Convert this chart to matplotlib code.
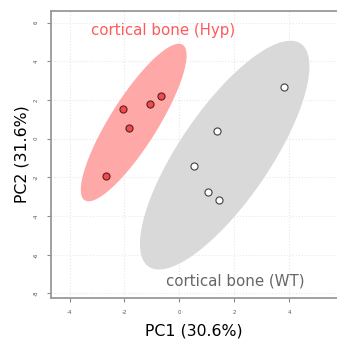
import numpy as np
import matplotlib
matplotlib.use("Agg")
import matplotlib.pyplot as plt

# PCA scores
hyp_pc1 = [-2.05, -1.85, -1.08, -0.68, -2.66]
hyp_pc2 = [1.53, 0.55, 1.81, 2.22, -1.93]
wt_pc1 = [3.82, 1.38, 0.55, 1.06, 1.46]
wt_pc2 = [2.67, 0.41, -1.39, -2.77, -3.17]

x_ticks = [-4, -2, 0, 2, 4]
y_ticks = [-8, -6, -4, -2, 0, 2, 4, 6]


def conf_ellipse(x, y, chi2=5.991, n=200):
    pts = np.column_stack([x, y])
    mu = pts.mean(axis=0)
    cov = np.cov(pts, rowvar=False)
    vals, vecs = np.linalg.eigh(cov)
    t = np.linspace(0, 2 * np.pi, n)
    circ = np.vstack([np.cos(t), np.sin(t)])
    e = vecs @ (np.sqrt(chi2 * vals)[:, None] * circ)
    return mu[0] + e[0], mu[1] + e[1]


fig = plt.figure(figsize=(3.37, 3.42), dpi=100)
ax = fig.add_axes([51 / 337, 1 - 297.7 / 342, (337 - 51) / 337, (297.7 - 11) / 342])

ex, ey = conf_ellipse(hyp_pc1, hyp_pc2)
ax.fill(ex, ey, color='#ffa8a8', lw=0, zorder=1)
ex, ey = conf_ellipse(wt_pc1, wt_pc2)
ax.fill(ex, ey, color='#d9d9d9', lw=0, zorder=1)

ax.scatter(hyp_pc1, hyp_pc2, s=26, c='#f04a4a', edgecolors='#5a2020', linewidths=0.8, zorder=3)
ax.scatter(wt_pc1, wt_pc2, s=26, c='white', edgecolors='#404040', linewidths=0.8, zorder=3)

ax.text(-0.6, 5.57, 'cortical bone (Hyp)', color='#ff5a5a', fontsize=10.8,
        ha='center', va='center', family='DejaVu Sans')
ax.text(2.03, -7.36, 'cortical bone (WT)', color='#666666', fontsize=10.8,
        ha='center', va='center', family='DejaVu Sans')

ax.set_xlim(-4.68, 5.75)
ax.set_ylim(-8.22, 6.6)
ax.set_xticks(x_ticks)
ax.set_yticks(y_ticks)
ax.set_xticklabels([str(v) for v in x_ticks], fontsize=4, color='#555555')
ax.set_yticklabels([str(v) for v in y_ticks], fontsize=4, color='#555555', rotation=90, va='center')
ax.tick_params(length=3, width=0.8, color='#888888', pad=6)
ax.grid(True, color='#e8e8e8', linestyle=':', linewidth=0.8, zorder=0)
ax.set_axisbelow(True)
for side in ['left', 'bottom', 'top']:
    ax.spines[side].set_color('#999999')
    ax.spines[side].set_linewidth(1.3)
ax.spines['right'].set_visible(False)

ax.set_xlabel('PC1 (30.6%)', fontsize=11.3, labelpad=6)
ax.set_ylabel('PC2 (31.6%)', fontsize=11.3, labelpad=3)

fig.savefig('out.png', dpi=100)
